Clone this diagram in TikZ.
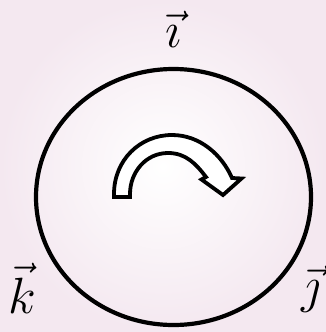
\documentclass[tikz,border=0pt]{standalone}
\begin{document}
\begin{tikzpicture}[x=1pt,y=-1pt,
  lbl/.style={inner sep=0pt,anchor=base,font=\Huge,scale=2.05},
  thickline/.style={line width=4.2pt,draw=black},
  arrline/.style={line width=3.8pt,draw=black,fill=white,line join=miter}]
\definecolor{bgpink}{RGB}{244,232,240}
\useasboundingbox (0,0) rectangle (326,332);
\shade[inner color=white,outer color=bgpink] (0,0) rectangle (326,332);
% circle
\draw[thickline] (173.5,197) ellipse [x radius=137.5pt, y radius=128pt];
% curved hollow arrow
\draw[arrline] (114,197) -- (114,194)
  .. controls (114,160) and (140,135) .. (172,135)
  .. controls (200,135) and (222,155) .. (232,178)
  -- (241.5,178.5) -- (223,195) -- (201.5,179.5) -- (206,177)
  .. controls (196,164) and (186,153) .. (168,153)
  .. controls (146,153) and (130,172) .. (130,194)
  -- (130,197) -- cycle;
% labels
\node[lbl] (i) at (173,47) {$\vec{\imath}$};
\node[lbl] (k) at (22,313) {$\vec{k}$};
\node[lbl] (j) at (311,302) {$\vec{\jmath}$};
\end{tikzpicture}
\end{document}
